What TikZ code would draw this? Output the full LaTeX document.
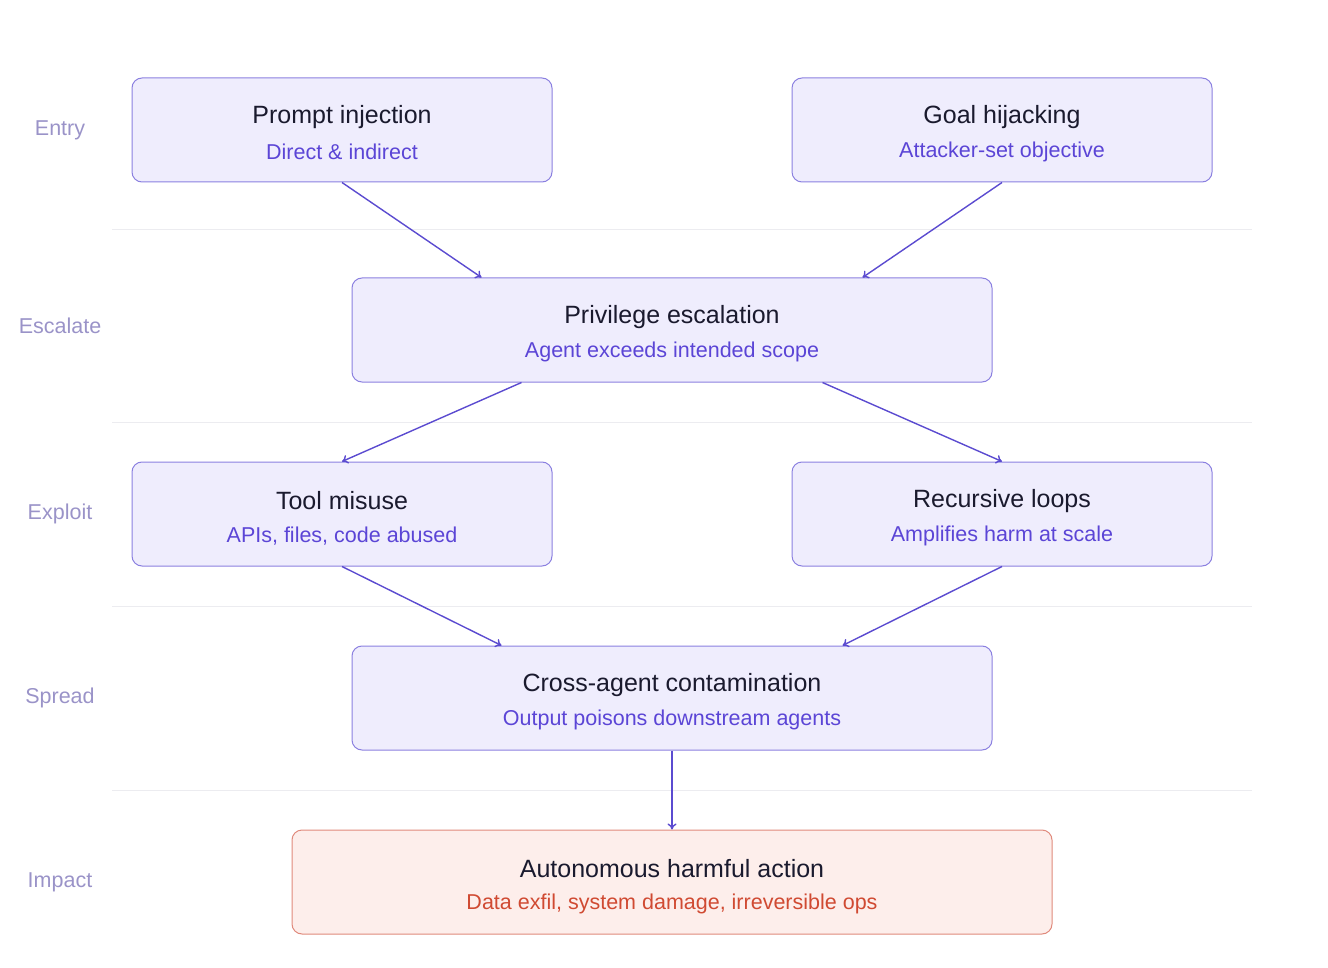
\documentclass[tikz,border=0pt]{standalone}
\usepackage{fontspec}
\setmainfont{Liberation Sans}
\usetikzlibrary{arrows.meta}
\definecolor{boxfill}{HTML}{EFEDFD}
\definecolor{boxline}{HTML}{8B80E0}
\definecolor{titlec}{HTML}{1A1A2E}
\definecolor{subc}{HTML}{5B45D6}
\definecolor{arrc}{HTML}{5B4BD0}
\definecolor{redfill}{HTML}{FDEEEB}
\definecolor{redline}{HTML}{E08A7C}
\definecolor{redsub}{HTML}{D04A32}
\definecolor{sidec}{HTML}{9A93C8}
\definecolor{sepc}{HTML}{ECECF0}
\begin{document}
\begin{tikzpicture}[x=1pt,y=-1pt,
  box/.style={draw=boxline,fill=boxfill,rounded corners=10pt,line width=1pt,minimum height=104pt,inner sep=0pt},
  rbox/.style={box,draw=redline,fill=redfill},
  ttl/.style={font=\fontsize{25}{28}\selectfont,text=titlec},
  sub/.style={font=\fontsize{21.5}{24}\selectfont,text=subc},
  rsub/.style={sub,text=redsub},
  side/.style={font=\fontsize{21.5}{24}\selectfont,text=sidec},
  sep/.style={draw=sepc,line width=1pt},
  arr/.style={draw=arrc,line width=1.4pt,-{To[length=6pt,width=9pt]}}]
\useasboundingbox (0,0) rectangle (1328,968);
\foreach \y in {230,422,606,790} \draw[sep] (112,\y) -- (1252,\y);
\node[side] (l1) at (60,130) {Entry};
\node[side] (l2) at (60,326) {Escalate};
\node[side] (l3) at (60,514) {Exploit};
\node[side] (l4) at (60,698) {Spread};
\node[side] (l5) at (60,882) {Impact};
\node[box,minimum width=420pt] (a) at (342,130) {};
\node[box,minimum width=420pt] (b) at (1002,130) {};
\node[box,minimum width=640pt] (c) at (672,330) {};
\node[box,minimum width=420pt] (d) at (342,514) {};
\node[box,minimum width=420pt] (e) at (1002,514) {};
\node[box,minimum width=640pt] (f) at (672,698) {};
\node[rbox,minimum width=760pt] (g) at (672,882) {};
\foreach \n/\t/\s in {a/Prompt injection/Direct \& indirect, b/Goal hijacking/Attacker-set objective, c/Privilege escalation/Agent exceeds intended scope, d/Tool misuse/{APIs, files, code abused}, e/Recursive loops/Amplifies harm at scale, f/Cross-agent contamination/Output poisons downstream agents}{
  \node[ttl] (\n t) at ([yshift=13]\n.center) {\t};
  \node[sub] (\n s) at ([yshift=-22]\n.center) {\s};
}
\node[ttl] (gt) at ([yshift=13]g.center) {Autonomous harmful action};
\node[rsub] (gs) at ([yshift=-22]g.center) {Data exfil, system damage, irreversible ops};
\coordinate (c1) at ([xshift=130]c.north west);
\coordinate (c2) at ([xshift=-130]c.north east);
\coordinate (c3) at ([xshift=170]c.south west);
\coordinate (c4) at ([xshift=-170]c.south east);
\coordinate (f1) at ([xshift=150]f.north west);
\coordinate (f2) at ([xshift=-150]f.north east);
\draw[arr] (a.south) -- (c1);
\draw[arr] (b.south) -- (c2);
\draw[arr] (c3) -- (d.north);
\draw[arr] (c4) -- (e.north);
\draw[arr] (d.south) -- (f1);
\draw[arr] (e.south) -- (f2);
\draw[arr] (f.south) -- (g.north);
\end{tikzpicture}
\end{document}
